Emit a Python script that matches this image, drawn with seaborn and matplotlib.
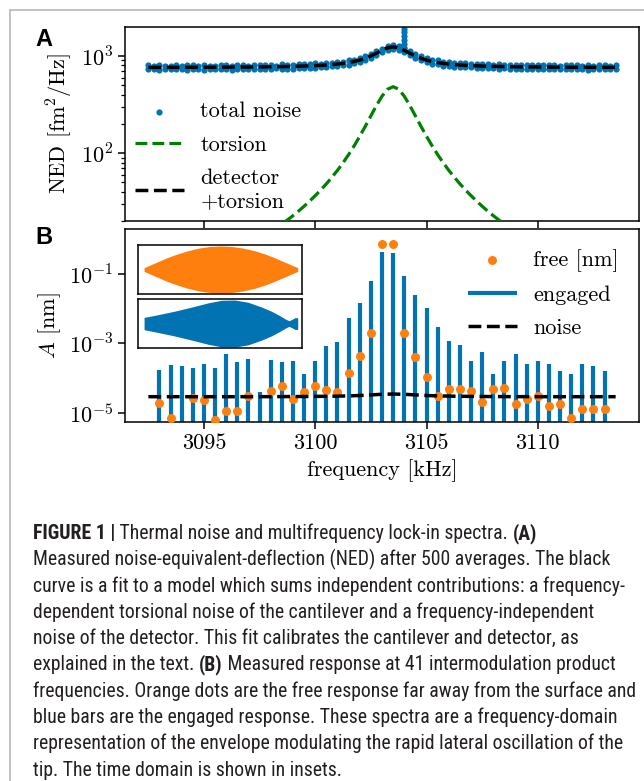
import numpy as np
import pandas as pd
import matplotlib
matplotlib.use("Agg")
import matplotlib.pyplot as plt
import seaborn as sns
from matplotlib.lines import Line2D
from matplotlib.ticker import FixedLocator, FuncFormatter, NullFormatter, NullLocator
from matplotlib import font_manager

# ---------------- data: panel A (NED spectrum) ----------------
freq_a = np.arange(3092.5, 3113.5 + 0.001, 0.25)
# upper and lower edge readings of the noisy "total noise" band
ned_upper = [800, 792, 806, 797, 790, 803, 795, 808, 799, 793,
             805, 798, 790, 809, 801, 796, 811, 800, 794, 808,
             802, 815, 806, 798, 818, 810, 807, 824, 819, 826,
             838, 835, 851, 846, 868, 872, 900, 915, 948, 990,
             1045, 1115, 1190, 1265, 1300, 1275, 1205, 1120, 1050, 990,
             952, 915, 900, 876, 866, 855, 842, 840, 830, 830,
             822, 823, 815, 818, 811, 815, 806, 810, 803, 809,
             800, 808, 801, 806, 797, 805, 800, 808, 798, 803,
             796, 805, 799, 794, 803]
ned_lower = [728, 736, 724, 733, 739, 727, 735, 722, 731, 738,
             726, 734, 741, 729, 736, 723, 733, 740, 728, 735,
             742, 731, 737, 745, 734, 741, 736, 750, 745, 752,
             755, 769, 766, 782, 786, 806, 812, 843, 865, 910,
             955, 1025, 1092, 1165, 1185, 1160, 1098, 1018, 958, 903,
             872, 836, 822, 798, 793, 776, 775, 762, 764, 752,
             755, 746, 750, 741, 746, 737, 743, 736, 740, 731,
             738, 733, 730, 737, 729, 735, 727, 736, 731, 726,
             734, 728, 737, 729, 733]
spike_freq = [3104.0, 3104.0, 3104.0, 3104.0, 3104.0, 3104.0]
spike_ned = [1200, 1320, 1450, 1600, 1750, 1880]
detector_level = 760.0
torsion = [3.96, 4.14, 4.34, 4.55, 4.78, 5.03, 5.29, 5.58, 5.89, 6.23,
           6.6, 7.0, 7.43, 7.91, 8.44, 9.02, 9.66, 10.4, 11.2, 12.1,
           13.1, 14.2, 15.5, 17.0, 18.6, 20.5, 22.7, 25.3, 28.4, 32.1,
           36.5, 41.8, 48.3, 56.4, 66.6, 79.6, 96.6, 119, 149, 189,
           242, 309, 386, 455, 483, 455, 386, 309, 242, 189,
           149, 119, 96.6, 79.6, 66.6, 56.4, 48.3, 41.8, 36.5, 32.1,
           28.4, 25.3, 22.7, 20.5, 18.6, 17.0, 15.5, 14.2, 13.1, 12.1,
           11.2, 10.4, 9.66, 9.02, 8.44, 7.91, 7.43, 7.0, 6.6, 6.23,
           5.89, 5.58, 5.29, 5.03, 4.78]

# ---------------- data: panel B (intermodulation spectrum) ----------------
freq_b = [3093.0, 3093.5, 3094.0, 3094.5, 3095.0, 3095.5, 3096.0, 3096.5, 3097.0, 3097.5,
          3098.0, 3098.5, 3099.0, 3099.5, 3100.0, 3100.5, 3101.0, 3101.5, 3102.0, 3102.5,
          3103.0, 3103.5, 3104.0, 3104.5, 3105.0, 3105.5, 3106.0, 3106.5, 3107.0, 3107.5,
          3108.0, 3108.5, 3109.0, 3109.5, 3110.0, 3110.5, 3111.0, 3111.5, 3112.0, 3112.5,
          3113.0]
engaged = [1.70e-4, 2.40e-4, 2.29e-4, 2.00e-4, 2.51e-4, 2.00e-4, 4.79e-4, 2.82e-4, 3.47e-4, 4.07e-5,
           3.31e-4, 2.88e-4, 3.16e-4, 1.29e-4, 3.16e-4, 8.51e-4, 1.10e-3, 5.25e-3, 1.45e-2, 6.17e-2,
           0.437, 0.407, 8.91e-2, 2.51e-2, 1.02e-2, 3.02e-3, 1.15e-3, 9.12e-4, 3.09e-4, 5.50e-4,
           1.29e-4, 3.16e-4, 4.90e-4, 2.63e-4, 3.16e-4, 2.51e-4, 1.58e-4, 1.29e-4, 2.63e-4, 2.29e-4,
           1.58e-4]
free = [1.86e-5, 6.9e-6, 3.0e-6, 2.69e-5, 2.34e-5, 6.2e-6, 1.12e-5, 1.12e-5, 3.02e-5, 3.0e-6,
        4.27e-5, 6.03e-5, 2.45e-5, 3.89e-5, 6.03e-5, 4.57e-5, 3.89e-5, 1.38e-4, 4.27e-4, 2.0e-3,
        0.74, 0.74, 2.0e-3, 3.98e-4, 1.05e-4, 2.95e-5, 4.79e-5, 4.79e-5, 4.27e-5, 2.09e-5,
        4.79e-5, 5.01e-5, 1.78e-5, 2.45e-5, 3.09e-5, 1.55e-5, 1.78e-5, 6.9e-6, 1.29e-5, 1.29e-5,
        1.29e-5]
noise_freq = np.arange(3092.5, 3113.5 + 0.001, 0.5)
noise_b = [2.90e-5, 2.90e-5, 2.90e-5, 2.90e-5, 2.90e-5, 2.90e-5, 2.90e-5, 2.90e-5, 2.90e-5, 2.90e-5,
           2.91e-5, 2.91e-5, 2.92e-5, 2.93e-5, 2.94e-5, 2.96e-5, 2.98e-5, 3.01e-5, 3.06e-5, 3.14e-5,
           3.27e-5, 3.40e-5, 3.46e-5, 3.40e-5, 3.27e-5, 3.14e-5, 3.06e-5, 3.01e-5, 2.98e-5, 2.96e-5,
           2.94e-5, 2.93e-5, 2.92e-5, 2.91e-5, 2.91e-5, 2.90e-5, 2.90e-5, 2.90e-5, 2.90e-5, 2.90e-5,
           2.90e-5, 2.90e-5, 2.90e-5]

# inset envelopes (time domain, normalised)
t_free = [0.037, 0.08, 0.13, 0.18, 0.24, 0.30, 0.37, 0.44, 0.505, 0.57, 0.64, 0.71, 0.77, 0.83, 0.88, 0.93, 0.974]
env_free = [0.08, 0.21, 0.36, 0.51, 0.66, 0.79, 0.91, 0.98, 1.0, 0.98, 0.91, 0.80, 0.67, 0.51, 0.36, 0.21, 0.08]
t_eng = [0.037, 0.124, 0.226, 0.327, 0.429, 0.51, 0.591, 0.673, 0.754, 0.815, 0.866, 0.902, 0.921, 0.937, 0.957, 0.974]
env_eng = [0.26, 0.38, 0.53, 0.70, 0.88, 0.99, 1.0, 0.90, 0.70, 0.52, 0.33, 0.18, 0.12, 0.17, 0.25, 0.25]

xtick_vals = [3095, 3100, 3105, 3110]
ytick_a = [1e2, 1e3]
ytick_b = [1e-5, 1e-3, 1e-1]

caption_lines = [
    [("FIGURE 1 |", True), (" Thermal noise and multifrequency lock-in spectra. ", False), ("(A)", True)],
    [("Measured noise-equivalent-deflection (NED) after 500 averages. The black", False)],
    [("curve is a fit to a model which sums independent contributions: a frequency-", False)],
    [("dependent torsional noise of the cantilever and a frequency-independent", False)],
    [("noise of the detector. This fit calibrates the cantilever and detector, as", False)],
    [("explained in the text. ", False), ("(B)", True), (" Measured response at 41 intermodulation product", False)],
    [("frequencies. Orange dots are the free response far away from the surface and", False)],
    [("blue bars are the engaged response. These spectra are a frequency-domain", False)],
    [("representation of the envelope modulating the rapid lateral oscillation of the", False)],
    [("tip. The time domain is shown in insets.", False)],
]

BLUE = "#0173b2"
ORANGE = "#ff7f0e"
GREEN = "#008000"

sns.set_theme(style="ticks")
plt.rcParams.update({
    "font.family": "serif",
    "font.serif": ["cmr10", "DejaVu Serif"],
    "mathtext.fontset": "cm",
    "axes.unicode_minus": False,
    "font.size": 16,
    "axes.edgecolor": "black", "axes.linewidth": 1.1,
    "xtick.color": "black", "ytick.color": "black",
    "xtick.major.size": 5, "ytick.major.size": 5,
    "xtick.major.width": 1.1, "ytick.major.width": 1.1,
    "ytick.minor.size": 3, "ytick.minor.width": 0.9,
    "xtick.direction": "out", "ytick.direction": "out",
    "axes.labelcolor": "black", "text.color": "black",
    "legend.fontsize": 16, "xtick.labelsize": 16, "ytick.labelsize": 16,
    "axes.labelsize": 16,
})

W, H = 644, 781
fig = plt.figure(figsize=(W / 100, H / 100), dpi=100)
ax_a = fig.add_axes([125 / W, 1 - 221 / H, 514 / W, 194 / H])
ax_b = fig.add_axes([125 / W, 1 - 422 / H, 514 / W, 193 / H], sharex=ax_a)

logfmt = FuncFormatter(lambda v, p: r"$10^{%d}$" % int(round(np.log10(v))))

# ---------------- panel A ----------------
ax_a.set_yscale("log")
df_a = pd.DataFrame({"f": list(freq_a) + list(freq_a) + spike_freq,
                     "ned": ned_upper + ned_lower + spike_ned})
sns.scatterplot(data=df_a, x="f", y="ned", ax=ax_a, color=BLUE, s=20, linewidth=0,
                label="total noise", zorder=2)
sns.lineplot(x=freq_a, y=torsion, ax=ax_a, color=GREEN, lw=2.3, ls="--",
             label="torsion", estimator=None, sort=False, zorder=3)
fit_total = detector_level + np.array(torsion)
sns.lineplot(x=freq_a, y=fit_total, ax=ax_a, color="black", lw=2.5, ls="--",
             label="detector\n+torsion", estimator=None, sort=False, zorder=4)
ax_a.set_xlim(3091.45, 3114.55)
ax_a.set_ylim(20, 1990)
ax_a.yaxis.set_major_locator(FixedLocator(ytick_a))
ax_a.yaxis.set_major_formatter(logfmt)
ax_a.yaxis.set_minor_formatter(NullFormatter())
ax_a.xaxis.set_major_locator(FixedLocator(xtick_vals))
ax_a.tick_params(labelbottom=False)
ax_a.set_xlabel("")
ax_a.set_ylabel(r"NED [fm$^2$/Hz]")
h, l = ax_a.get_legend_handles_labels()
order = ["total noise", "torsion", "detector\n+torsion"]
hd = dict(zip(l, h))
ax_a.legend([hd[k] for k in order], order, loc="upper left", bbox_to_anchor=(0.002, 0.66),
            borderaxespad=0, frameon=False, handlelength=2.2, handletextpad=0.75,
            labelspacing=0.62)

# ---------------- panel B ----------------
ax_b.set_yscale("log")
ax_b.vlines(freq_b, 1e-7, engaged, color=BLUE, lw=3.0, label="engaged", zorder=2)
sns.scatterplot(x=freq_b, y=free, ax=ax_b, color=ORANGE, s=42, linewidth=0,
                label="free [nm]", zorder=3)
sns.lineplot(x=noise_freq, y=noise_b, ax=ax_b, color="black", lw=2.5, ls="--",
             label="noise", estimator=None, sort=False, zorder=4)
ax_b.set_ylim(5.4e-6, 2.0)
ax_b.yaxis.set_major_locator(FixedLocator(ytick_b))
ax_b.yaxis.set_major_formatter(logfmt)
ax_b.yaxis.set_minor_locator(NullLocator())
ax_b.set_xlabel("frequency [kHz]")
ax_b.set_ylabel(r"$A$ [nm]")
h, l = ax_b.get_legend_handles_labels()
order = ["free [nm]", "engaged", "noise"]
hd = dict(zip(l, h))
ax_b.legend([hd[k] for k in order], order, loc="upper right", frameon=False,
            handlelength=2.2, handletextpad=0.75, labelspacing=0.6)

# insets
for bounds, tt, ee, col in [([0.0253, 0.663, 0.319, 0.254], t_free, env_free, ORANGE),
                            ([0.0253, 0.383, 0.319, 0.254], t_eng, env_eng, BLUE)]:
    ins = ax_b.inset_axes(bounds)
    ins.fill_between(tt, -np.array(ee), np.array(ee), color=col, lw=0)
    ins.set_xlim(0, 1)
    ins.set_ylim(-1.04, 1.04)
    ins.set_xticks([])
    ins.set_yticks([])
    ins.set_facecolor("white")
    for s in ins.spines.values():
        s.set_linewidth(1.1)
        s.set_color("black")

# panel letters
fig.text(44 / W, 1 - 40 / H, "A", ha="center", va="center", fontsize=17,
         fontweight="bold", family="Liberation Sans")
fig.text(44 / W, 1 - 237 / H, "B", ha="center", va="center", fontsize=17,
         fontweight="bold", family="Liberation Sans")

# gray page frame
fig.add_artist(Line2D([10 / W, 1], [1 - 10 / H, 1 - 10 / H], transform=fig.transFigure,
                      color="#b8b8b8", lw=1.2))
fig.add_artist(Line2D([10 / W, 10 / W], [0, 1 - 10 / H], transform=fig.transFigure,
                      color="#b8b8b8", lw=1.2))

# caption
names = {f.name for f in font_manager.fontManager.ttflist}
cap_family = next((n for n in ["Liberation Sans Narrow", "Roboto Condensed", "Roboto",
                               "Liberation Sans"] if n in names), "DejaVu Sans")
renderer = fig.canvas.get_renderer()


def text_w(s, bold, size):
    wt = "bold" if bold else "normal"
    t = fig.text(0, 0, s + "x", fontsize=size, fontweight=wt, family=cap_family)
    w = t.get_window_extent(renderer).width
    t.remove()
    t2 = fig.text(0, 0, "x", fontsize=size, fontweight=wt, family=cap_family)
    w2 = t2.get_window_extent(renderer).width
    t2.remove()
    return w - w2


max_w = max(sum(text_w(s, b, 12) for s, b in line) for line in caption_lines)
cap_size = 12 * 604 / max_w
x0 = 33
for k, line in enumerate(caption_lines):
    base = 539 + 26.3 * k
    x = x0
    for seg, bold in line:
        fig.text(x / W, 1 - base / H, seg, fontsize=cap_size,
                 fontweight="bold" if bold else "normal", family=cap_family,
                 color="#231f20", ha="left", va="baseline")
        x += text_w(seg, bold, cap_size)

fig.savefig("out.png", dpi=100)
